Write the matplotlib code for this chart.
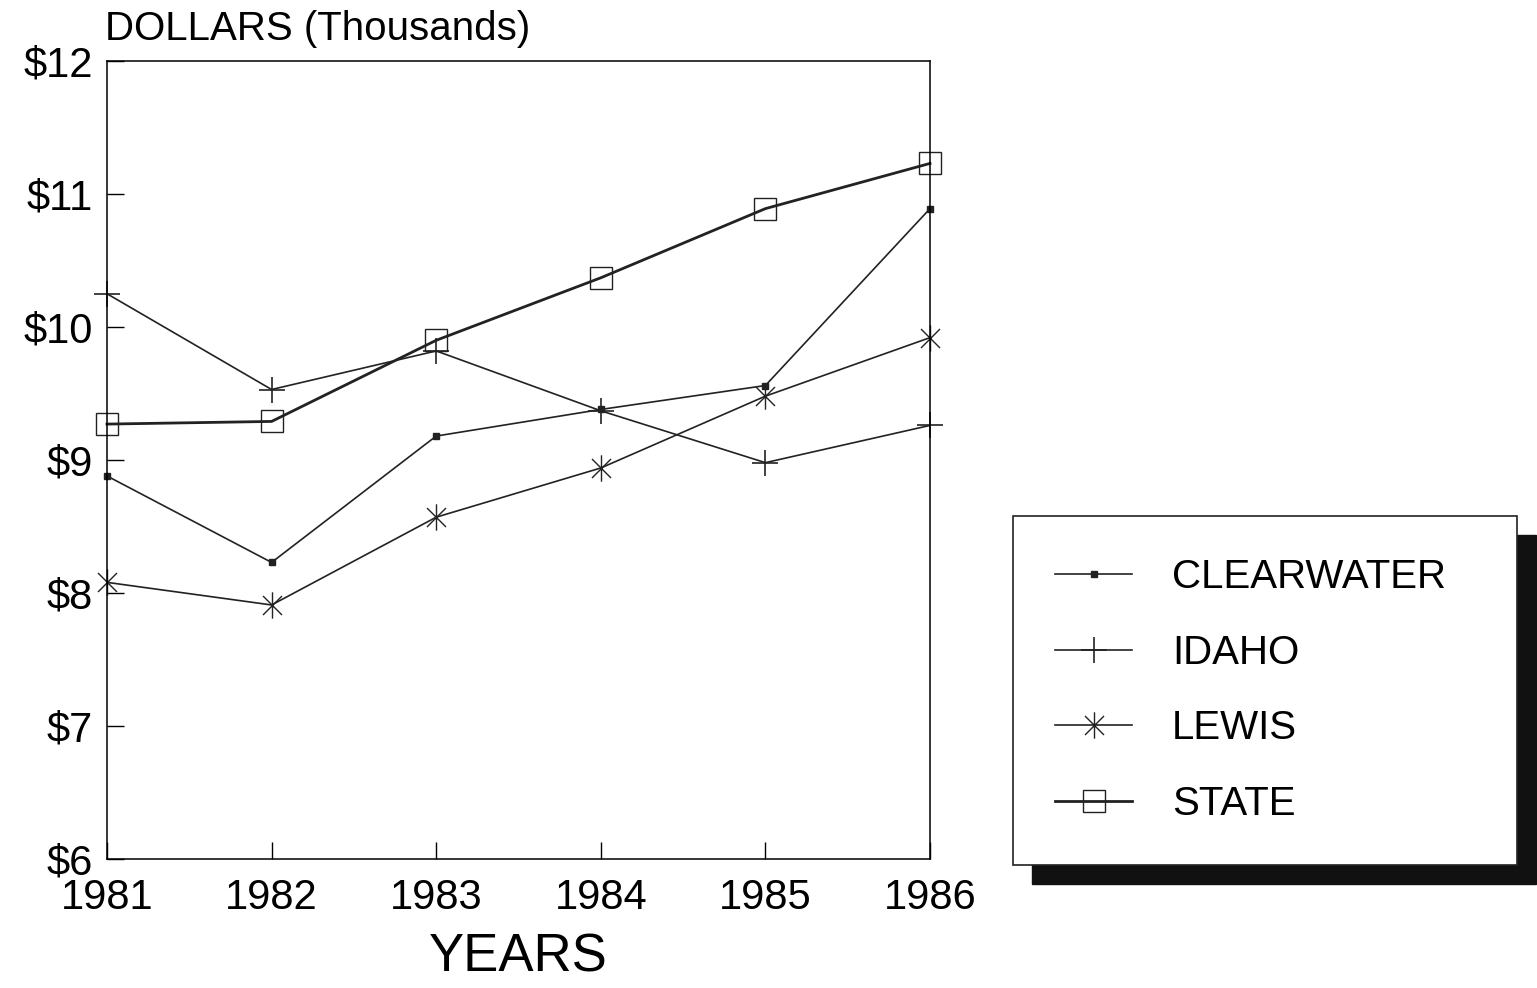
import matplotlib
matplotlib.use('Agg')
from matplotlib import pyplot as plt
from matplotlib.patches import Rectangle
from matplotlib.path import Path

plt.rcParams['font.family'] = ['Liberation Sans', 'DejaVu Sans']

years = [1981, 1982, 1983, 1984, 1985, 1986]
clearwater = [8.88, 8.23, 9.18, 9.38, 9.56, 10.89]
idaho = [10.25, 9.53, 9.82, 9.37, 8.98, 9.26]
lewis = [8.08, 7.91, 8.57, 8.94, 9.48, 9.92]
state = [9.27, 9.29, 9.90, 10.37, 10.89, 11.23]
y_ticks = [6, 7, 8, 9, 10, 11, 12]
y_labels = ['\\$6', '\\$7', '\\$8', '\\$9', '\\$10', '\\$11', '\\$12']

# asterisk: vertical stroke plus an X
d = 0.72
star = Path([(0, -1), (0, 1), (-d, -d), (d, d), (-d, d), (d, -d)],
            [Path.MOVETO, Path.LINETO, Path.MOVETO, Path.LINETO, Path.MOVETO, Path.LINETO])

fig = plt.figure(figsize=(15.37, 9.88), dpi=100)
ax = fig.add_axes([107/1537, 1-859/988, (930-107)/1537, (859-61)/988])

ax.plot(years, clearwater, color='#222', lw=1.2, marker='s', ms=5, label='CLEARWATER', clip_on=False)
ax.plot(years, idaho, color='#222', lw=1.2, marker='+', ms=19, mew=1.2, label='IDAHO', clip_on=False)
ax.plot(years, lewis, color='#222', lw=1.2, marker=star, ms=19, mew=1.0, label='LEWIS', clip_on=False)
ax.plot(years, state, color='#222', lw=2.0, marker='s', ms=16, mfc='none', mew=1.0, label='STATE', clip_on=False)

ax.set_xlim(1981, 1986)
ax.set_ylim(6, 12)
ax.set_xticks(years)
ax.set_yticks(y_ticks)
ax.set_yticklabels(y_labels)
ax.tick_params(direction='in', length=12, width=1, labelsize=30, pad=10)
ax.tick_params(axis='x', pad=14)
for s in ax.spines.values():
    s.set_linewidth(1.1)
ax.set_xlabel('YEARS', fontsize=38, labelpad=10)
fig.text(105/1537, 1-40/988, 'DOLLARS (Thousands)', fontsize=29, ha='left', va='baseline')

top = 1 - 516/988
leg = fig.legend(loc='upper left', bbox_to_anchor=(1013/1537, top - 0.4, (1517-1013)/1537, 0.4),
                 mode='expand', fontsize=29, frameon=True, fancybox=False, edgecolor='#222',
                 facecolor='white', framealpha=1,
                 handlelength=1.9, handletextpad=1.0, labelspacing=0.93, borderpad=1.05,
                 borderaxespad=0)
leg.get_frame().set_linewidth(1.2)
leg.set_zorder(5)

fig.canvas.draw()
bb = leg.get_frame().get_window_extent()
W, H = fig.bbox.width, fig.bbox.height
shadow = Rectangle(((bb.x0 + 19)/W, (bb.y0 - 19)/H), bb.width/W, bb.height/H,
                   transform=fig.transFigure, color='#111', zorder=4)
fig.patches.append(shadow)

fig.savefig('out.png', dpi=100)
